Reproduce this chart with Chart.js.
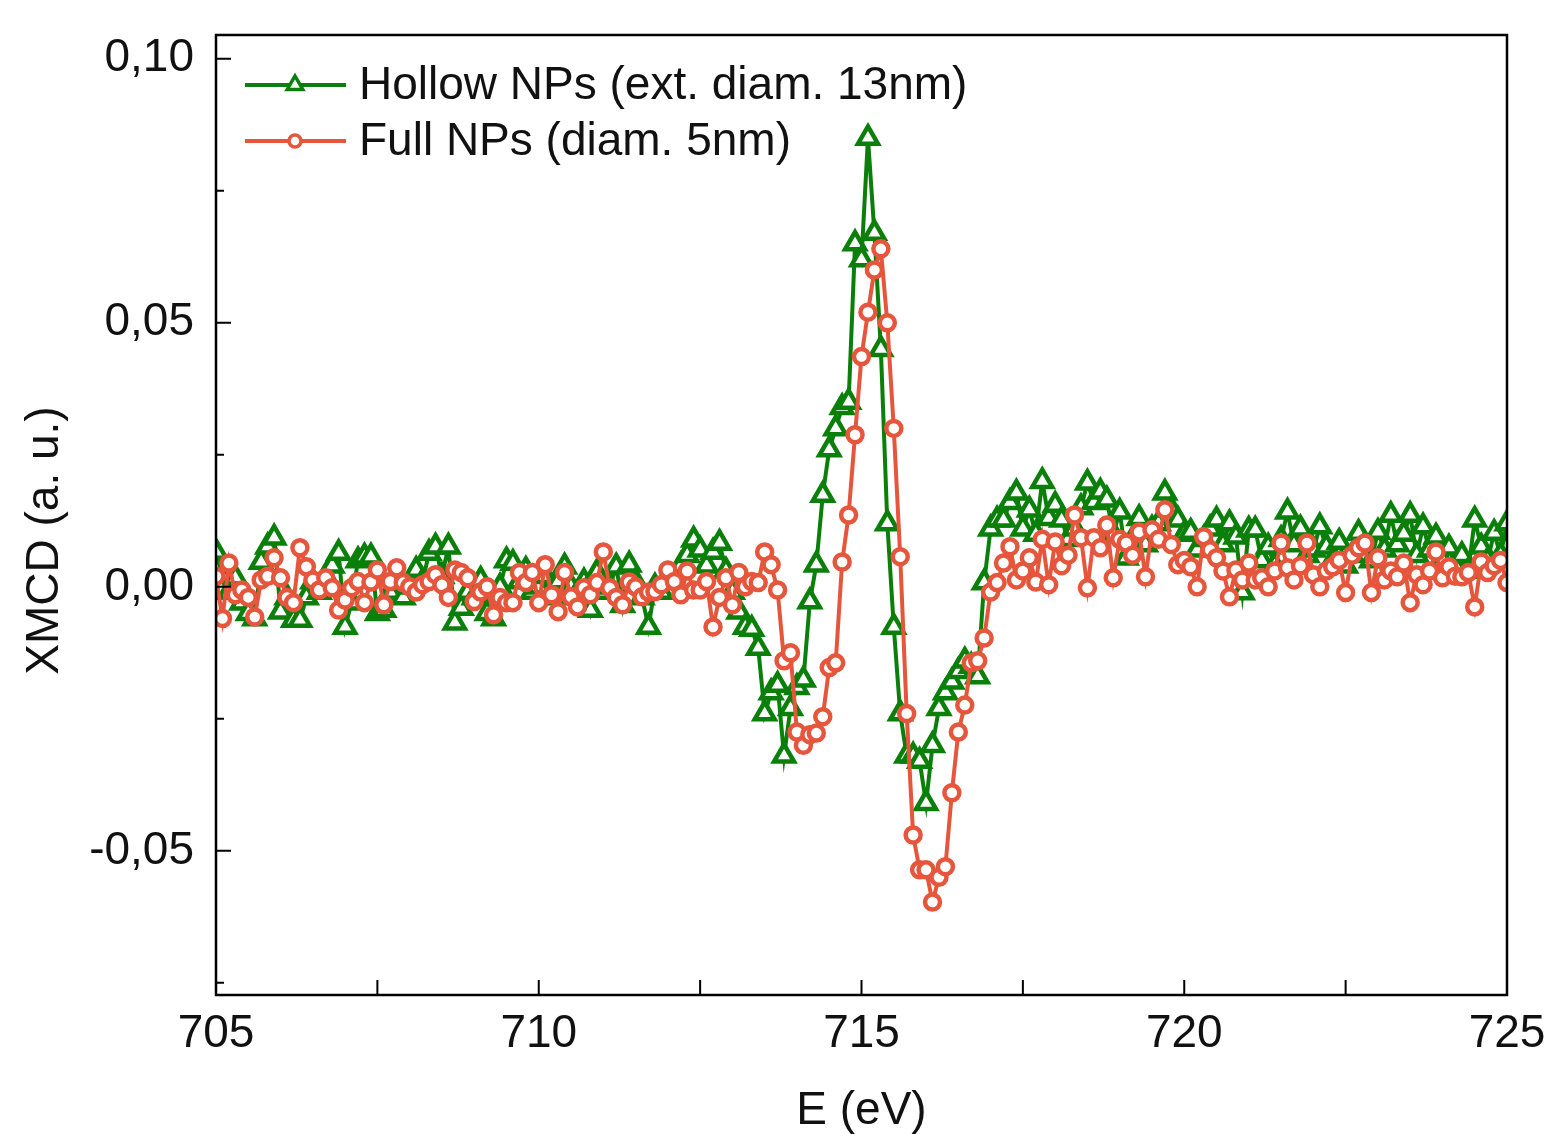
<!DOCTYPE html>
<html>
<head>
<meta charset="utf-8">
<script src="https://cdn.jsdelivr.net/npm/chart.js@4/dist/chart.umd.min.js"></script>
<style>
  html, body { margin: 0; padding: 0; background: #ffffff; }
  #wrap { width: 1545px; height: 1134px; }
</style>
</head>
<body>
<div id="wrap"><canvas id="c" width="1545" height="1134"></canvas></div>
<script>
// ---- Data ----
const energy = [
705.0,705.1,705.2,705.3,705.4,705.5,705.6,705.7,705.8,705.9,
706.0,706.1,706.2,706.3,706.4,706.5,706.6,706.7,706.8,706.9,
707.0,707.1,707.2,707.3,707.4,707.5,707.6,707.7,707.8,707.9,
708.0,708.1,708.2,708.3,708.4,708.5,708.6,708.7,708.8,708.9,
709.0,709.1,709.2,709.3,709.4,709.5,709.6,709.7,709.8,709.9,
710.0,710.1,710.2,710.3,710.4,710.5,710.6,710.7,710.8,710.9,
711.0,711.1,711.2,711.3,711.4,711.5,711.6,711.7,711.8,711.9,
712.0,712.1,712.2,712.3,712.4,712.5,712.6,712.7,712.8,712.9,
713.0,713.1,713.2,713.3,713.4,713.5,713.6,713.7,713.8,713.9,
714.0,714.1,714.2,714.3,714.4,714.5,714.6,714.7,714.8,714.9,
715.0,715.1,715.2,715.3,715.4,715.5,715.6,715.7,715.8,715.9,
716.0,716.1,716.2,716.3,716.4,716.5,716.6,716.7,716.8,716.9,
717.0,717.1,717.2,717.3,717.4,717.5,717.6,717.7,717.8,717.9,
718.0,718.1,718.2,718.3,718.4,718.5,718.6,718.7,718.8,718.9,
719.0,719.1,719.2,719.3,719.4,719.5,719.6,719.7,719.8,719.9,
720.0,720.1,720.2,720.3,720.4,720.5,720.6,720.7,720.8,720.9,
721.0,721.1,721.2,721.3,721.4,721.5,721.6,721.7,721.8,721.9,
722.0,722.1,722.2,722.3,722.4,722.5,722.6,722.7,722.8,722.9,
723.0,723.1,723.2,723.3,723.4,723.5,723.6,723.7,723.8,723.9,
724.0,724.1,724.2,724.3,724.4,724.5,724.6,724.7,724.8,724.9,
725.0
];

const hollowXMCD = [
0.0066,0.0020,-0.0010,0.0017,-0.0030,-0.0050,-0.0060,0.0047,0.0076,0.0093,
-0.0047,-0.0020,-0.0063,-0.0063,-0.0020,0.0010,-0.0010,0.0020,0.0040,0.0064,
-0.0076,-0.0030,0.0050,0.0057,0.0057,-0.0050,-0.0044,-0.0010,0.0010,-0.0020,
0.0000,0.0032,0.0010,0.0064,0.0076,0.0020,0.0076,-0.0068,-0.0040,-0.0010,
-0.0020,0.0013,-0.0050,-0.0060,0.0000,0.0050,0.0045,0.0010,0.0032,-0.0010,
0.0000,0.0020,-0.0020,0.0010,0.0038,0.0000,-0.0020,0.0010,-0.0044,0.0027,
-0.0010,0.0000,0.0038,-0.0035,0.0042,0.0010,-0.0020,-0.0076,0.0000,-0.0010,
0.0020,0.0010,0.0040,0.0060,0.0089,0.0070,0.0040,0.0066,0.0083,0.0030,
-0.0010,-0.0047,-0.0076,-0.0080,-0.0116,-0.0240,-0.0200,-0.0186,-0.0320,-0.0230,
-0.0190,-0.0176,-0.0028,0.0042,0.0174,0.0260,0.0300,0.0340,0.0350,0.0650,
0.0620,0.0850,0.0670,0.0450,0.0120,-0.0076,-0.0240,-0.0320,-0.0320,-0.0330,
-0.0410,-0.0300,-0.0230,-0.0200,-0.0180,-0.0160,-0.0140,-0.0150,-0.0170,0.0008,
0.0110,0.0127,0.0127,0.0160,0.0178,0.0110,0.0146,0.0100,0.0200,0.0130,
0.0155,0.0127,0.0090,0.0110,0.0150,0.0197,0.0160,0.0180,0.0165,0.0100,
0.0142,0.0055,0.0090,0.0130,0.0080,0.0110,0.0120,0.0178,0.0146,0.0127,
0.0100,0.0104,0.0070,0.0090,0.0110,0.0127,0.0080,0.0120,0.0095,-0.0011,
0.0108,0.0108,0.0050,0.0076,0.0040,0.0090,0.0142,0.0080,0.0110,0.0060,
0.0070,0.0114,0.0076,0.0050,0.0085,0.0040,0.0060,0.0102,0.0080,0.0050,
0.0104,0.0070,0.0136,0.0080,0.0100,0.0136,0.0060,0.0114,0.0070,0.0095,
0.0050,0.0074,0.0040,0.0060,0.0030,0.0127,0.0076,0.0050,0.0102,0.0060,
0.0120
];

const fullXMCD = [
0.0020,-0.0060,0.0045,-0.0015,-0.0006,-0.0020,-0.0057,0.0013,0.0020,0.0055,
0.0017,-0.0020,-0.0030,0.0074,0.0038,0.0013,-0.0006,0.0017,-0.0002,-0.0044,
-0.0025,-0.0002,0.0010,-0.0030,0.0009,0.0032,-0.0034,0.0010,0.0036,0.0008,
0.0000,-0.0010,0.0004,0.0010,0.0023,0.0004,-0.0020,0.0032,0.0027,0.0017,
-0.0028,-0.0010,0.0000,-0.0053,-0.0020,-0.0030,-0.0030,0.0027,0.0008,0.0027,
-0.0030,0.0042,-0.0015,-0.0047,0.0027,-0.0019,-0.0038,-0.0002,-0.0015,0.0008,
0.0066,-0.0002,-0.0020,-0.0034,0.0009,0.0000,-0.0019,-0.0010,-0.0009,0.0004,
0.0032,0.0010,-0.0015,0.0030,-0.0006,-0.0006,0.0010,-0.0076,-0.0020,0.0017,
-0.0034,0.0027,0.0000,0.0010,0.0008,0.0066,0.0042,-0.0006,-0.0140,-0.0125,
-0.0275,-0.0300,-0.0280,-0.0277,-0.0246,-0.0153,-0.0144,0.0047,0.0136,0.0288,
0.0436,0.0520,0.0600,0.0640,0.0500,0.0300,0.0057,-0.0240,-0.0470,-0.0536,
-0.0536,-0.0597,-0.0550,-0.0530,-0.0390,-0.0275,-0.0224,-0.0144,-0.0140,-0.0097,
-0.0010,0.0008,0.0045,0.0076,0.0013,0.0030,0.0055,0.0009,0.0090,0.0004,
0.0085,0.0040,0.0060,0.0136,0.0093,-0.0002,0.0093,0.0074,0.0117,0.0017,
0.0090,0.0083,0.0060,0.0104,0.0019,0.0108,0.0090,0.0146,0.0080,0.0042,
0.0050,0.0038,0.0000,0.0095,0.0070,0.0055,0.0030,-0.0019,0.0032,0.0013,
0.0045,0.0013,0.0017,0.0000,0.0030,0.0083,0.0036,0.0013,0.0040,0.0083,
0.0023,0.0000,0.0030,0.0038,0.0050,-0.0011,0.0060,0.0074,0.0083,-0.0011,
0.0055,0.0013,0.0030,0.0019,0.0045,-0.0030,0.0023,0.0004,0.0030,0.0066,
0.0017,0.0038,0.0020,0.0019,0.0027,-0.0038,0.0047,0.0027,0.0040,0.0050,
0.0008
];

const seriesNames = ['Hollow NPs (ext. diam. 13nm)', 'Full NPs (diam. 5nm)'];
const xTickValues = [705, 710, 715, 720, 725];
const xTickLabels = ['705', '710', '715', '720', '725'];
const xMinorTicks = [707.5, 712.5, 717.5, 722.5];
const yTickValues = [-0.05, 0.00, 0.05, 0.10];
const yTickLabels = ['-0,05', '0,00', '0,05', '0,10'];
const yMinorTicks = [-0.075, -0.025, 0.025, 0.075];
const xAxisTitle = 'E (eV)';
const yAxisTitle = 'XMCD (a. u.)';

// ---- Styles ----
const GREEN = '#0a7f0a';
const RED = '#e5563c';
const FONT = '"Liberation Sans", Arial, Helvetica, sans-serif';
const FS = 46;

function zeroPad(scale) {
  scale.paddingTop = 0; scale.paddingBottom = 0;
  scale.paddingLeft = 0; scale.paddingRight = 0;
}

const frameAndTicks = {
  id: 'frameAndTicks',
  afterDraw(chart) {
    const ctx = chart.ctx;
    const a = chart.chartArea;
    const xs = chart.scales.x, ys = chart.scales.y;
    ctx.save();
    ctx.strokeStyle = '#000';
    ctx.lineWidth = 2.5;
    ctx.strokeRect(a.left, a.top, a.right - a.left, a.bottom - a.top);
    ctx.lineWidth = 2;
    ctx.beginPath();
    xTickValues.forEach(v => { const p = xs.getPixelForValue(v); ctx.moveTo(p, a.bottom); ctx.lineTo(p, a.bottom - 15); });
    xMinorTicks.forEach(v => { const p = xs.getPixelForValue(v); ctx.moveTo(p, a.bottom); ctx.lineTo(p, a.bottom - 15); });
    yTickValues.forEach(v => { const p = ys.getPixelForValue(v); ctx.moveTo(a.left, p); ctx.lineTo(a.left + 15, p); });
    yMinorTicks.forEach(v => { const p = ys.getPixelForValue(v); ctx.moveTo(a.left, p); ctx.lineTo(a.left + 8, p); });
    ctx.stroke();

    // legend
    const rows = [
      { name: seriesNames[0], color: GREEN, style: 'triangle', r: 9, y: 85 },
      { name: seriesNames[1], color: RED, style: 'circle', r: 6, y: 141 }
    ];
    rows.forEach(row => {
      ctx.strokeStyle = row.color;
      ctx.lineWidth = 4;
      ctx.beginPath();
      ctx.moveTo(245, row.y); ctx.lineTo(346, row.y);
      ctx.stroke();
      ctx.lineWidth = 3.5;
      ctx.fillStyle = '#fff';
      ctx.beginPath();
      if (row.style === 'circle') { ctx.arc(295, row.y, row.r, 0, Math.PI * 2); }
      else {
        const r = row.r;
        ctx.moveTo(295, row.y - r);
        ctx.lineTo(295 + r * 0.866, row.y + r * 0.5);
        ctx.lineTo(295 - r * 0.866, row.y + r * 0.5);
        ctx.closePath();
      }
      ctx.fill();
      ctx.stroke();
      ctx.fillStyle = '#111';
      ctx.font = FS + 'px ' + FONT;
      ctx.textBaseline = 'middle';
      ctx.textAlign = 'left';
      ctx.fillText(row.name, 359, row.y + 1);
    });
    ctx.restore();
  }
};

const chart = new Chart(document.getElementById('c'), {
  type: 'line',
  data: {
    datasets: [
      {
        label: seriesNames[1],
        data: energy.map((e, i) => ({ x: e, y: fullXMCD[i] })),
        borderColor: RED,
        backgroundColor: '#ffffff',
        borderWidth: 4,
        pointStyle: 'circle',
        pointRadius: 7.5,
        pointBorderWidth: 4.5,
        pointBorderColor: RED,
        pointBackgroundColor: '#ffffff',
        tension: 0,
        order: 0
      },
      {
        label: seriesNames[0],
        data: energy.map((e, i) => ({ x: e, y: hollowXMCD[i] })),
        borderColor: GREEN,
        backgroundColor: '#ffffff',
        borderWidth: 4,
        pointStyle: 'triangle',
        pointRadius: 11.5,
        pointBorderWidth: 4.5,
        pointBorderColor: GREEN,
        pointBackgroundColor: '#ffffff',
        tension: 0,
        order: 1
      }
    ]
  },
  options: {
    responsive: false,
    animation: false,
    devicePixelRatio: 1,
    layout: { padding: { top: 35, right: 38, left: 0, bottom: 0 } },
    plugins: { legend: { display: false }, tooltip: { enabled: false } },
    scales: {
      x: {
        type: 'linear',
        min: 705, max: 725,
        grid: { display: false, drawTicks: false },
        border: { display: false },
        afterBuildTicks(scale) { scale.ticks = xTickValues.map(v => ({ value: v })); },
        afterFit(scale) { scale.height = 139; zeroPad(scale); },
        ticks: {
          padding: 12,
          color: '#111',
          font: { family: FONT, size: FS },
          callback: (v) => xTickLabels[xTickValues.indexOf(v)]
        },
        title: {
          display: true, text: xAxisTitle, color: '#111',
          font: { family: FONT, size: FS, lineHeight: 1 },
          padding: { top: 0, bottom: 0 }
        }
      },
      y: {
        type: 'linear',
        min: -0.0773, max: 0.1045,
        grid: { display: false, drawTicks: false },
        border: { display: false },
        afterBuildTicks(scale) { scale.ticks = yTickValues.map(v => ({ value: v })); },
        afterFit(scale) { scale.width = 216; zeroPad(scale); },
        ticks: {
          padding: 22,
          color: '#111',
          font: { family: FONT, size: FS },
          callback: (v) => { const i = yTickValues.findIndex(t => Math.abs(t - v) < 1e-9); return i >= 0 ? yTickLabels[i] : ''; }
        },
        title: {
          display: true, text: yAxisTitle + '    ', color: '#111',
          font: { family: FONT, size: FS, lineHeight: 1 },
          padding: { top: 22, bottom: 0 }
        }
      }
    }
  },
  plugins: [frameAndTicks]
});
</script>
</body>
</html>
